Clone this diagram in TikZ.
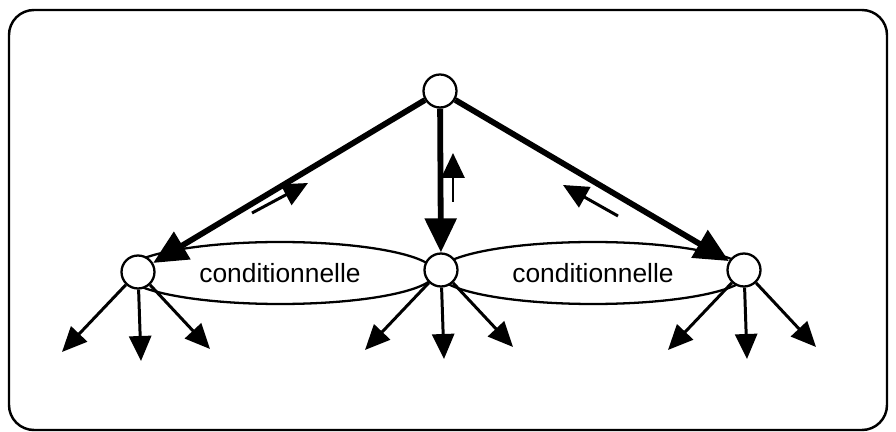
\documentclass[tikz,border=0pt]{standalone}
\usepackage{fontspec}
\setmainfont{Liberation Sans}
\usetikzlibrary{arrows.meta,shapes.geometric}

\tikzset{
  etat/.style={circle,draw,line width=1.3pt,fill=white,minimum size=0.66cm,inner sep=0pt},
  condi/.style={ellipse,draw,line width=1.3pt,minimum width=6.2cm,minimum height=1.24cm,
    inner sep=0pt,font=\fontsize{15}{18}\selectfont},
  grosse/.style={line width=3.3pt,-{Triangle[length=0.68cm,width=0.62cm]}},
  fils/.style={line width=1.7pt,-{Triangle[length=0.5cm,width=0.44cm]}},
  sens/.style={line width=1.7pt,-{Triangle[length=0.5cm,width=0.46cm]}},
}

\begin{document}
\begin{tikzpicture}[x=0.02cm,y=-0.02cm]
 \useasboundingbox (0,0) rectangle (896,432);
 \draw[line width=1.4pt,rounded corners=0.5cm] (9,10) rectangle (887,430);

 % les deux conditionnelles, sous les etats
 \node[condi] (eg) at (280,273) {conditionnelle};
 \node[condi] (ed) at (593,273) {conditionnelle};

 \node[etat] (haut) at (440,91) {};
 \node[etat] (g) at (138,272) {};
 \node[etat] (m) at (441,270) {};
 \node[etat] (d) at (744,270) {};

 \draw[grosse] (haut) -- (g);
 \draw[grosse] (haut) -- (m);
 \draw[grosse] (haut) -- (d);

 % sens de remontee
 \coordinate (sg0) at (252,213); \coordinate (sg1) at (308,183);
 \coordinate (sm0) at (453,202); \coordinate (sm1) at (453,153);
 \coordinate (sd0) at (618,216); \coordinate (sd1) at (563,185);
 \draw[sens] (sg0) -- (sg1);
 \draw[sens] (sm0) -- (sm1);
 \draw[sens] (sd0) -- (sd1);

 % fils de chaque etat
 \foreach \n in {g,m,d}
 {
   \coordinate (\n1) at ([shift={(-76,80)}]\n.center);
   \coordinate (\n2) at ([shift={(3,89)}]\n.center);
   \coordinate (\n3) at ([shift={(72,77)}]\n.center);
   \draw[fils] (\n) -- (\n1);
   \draw[fils] (\n) -- (\n2);
   \draw[fils] (\n) -- (\n3);
 }

\end{tikzpicture}
\end{document}
